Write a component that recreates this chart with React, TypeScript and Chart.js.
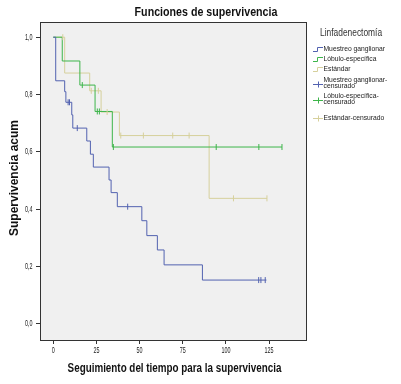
import React, { useEffect, useRef } from 'react';
import { Chart, registerables } from 'chart.js';

Chart.register(...registerables);

// Axis ticks
const xTicks = [0, 25, 50, 75, 100, 125];
const yTicks = [0, 0.2, 0.4, 0.6, 0.8, 1.0];

// Texts
const chartTitle = 'Funciones de supervivencia';
const xTitle = 'Seguimiento del tiempo para la supervivencia';
const yTitle = 'Supervivencia acum';
const groupNames = ['Muestreo ganglionar', 'Lóbulo-específica', 'Estándar'];
const censoredNames = [['Muestreo ganglionar-', 'censurado'], ['Lóbulo-específica-', 'censurado'], ['Estándar-censurado']];
const legendTitle = 'Linfadenectomía';

// Muestreo ganglionar (survival steps)
const muestreoTimes = [0, 1.4, 6.6, 7.3, 10.7, 11.3, 19.4, 21.5, 23.2, 32.3, 33.5, 37.1, 51.3, 54.2, 60.3, 64.2, 86.4, 123.5];
const muestreoSurv = [1, 0.848, 0.81, 0.773, 0.729, 0.683, 0.638, 0.592, 0.547, 0.502, 0.458, 0.409, 0.36, 0.308, 0.258, 0.206, 0.153, 0.153];
const muestreoCensTimes = [8.6, 9.4, 13.9, 43.1, 119.0, 120.3, 122.8];
const muestreoCensSurv = [0.773, 0.773, 0.683, 0.409, 0.153, 0.153, 0.153];

// Lóbulo-específica
const lobuloTimes = [0, 5.2, 15.4, 24.2, 34.2, 132.5];
const lobuloSurv = [1, 0.917, 0.833, 0.741, 0.617, 0.617];
const lobuloCensTimes = [16.8, 25.5, 26.7, 34.8, 94.4, 119.1, 132.5];
const lobuloCensSurv = [0.833, 0.741, 0.741, 0.617, 0.617, 0.617, 0.617];

// Estándar
const estandarTimes = [0, 6.6, 21.1, 27.7, 38.3, 90.3, 123.8];
const estandarSurv = [1, 0.875, 0.813, 0.739, 0.657, 0.438, 0.438];
const estandarCensTimes = [5.5, 22.0, 26.1, 31.2, 39.1, 52.2, 69.2, 78.7, 104.4, 123.8];
const estandarCensSurv = [1, 0.813, 0.813, 0.739, 0.657, 0.657, 0.657, 0.657, 0.438, 0.438];

const colors = ['#5262b0', '#3db54a', '#d6d09c'];

const toPts = (xs: number[], ys: number[]) => xs.map((x, i) => ({ x, y: ys[i] }));

const SANS = '"Liberation Sans", Arial, sans-serif';

// Draw horizontally condensed text (emulates a narrow face)
function drawText(ctx: CanvasRenderingContext2D, text: string, x: number, y: number, font: string, sx: number, align: 'left' | 'center' | 'right', color: string) {
  ctx.save();
  ctx.font = font;
  ctx.fillStyle = color;
  ctx.textBaseline = 'middle';
  ctx.textAlign = 'left';
  const w = ctx.measureText(text).width * sx;
  const x0 = align === 'center' ? x - w / 2 : align === 'right' ? x - w : x;
  ctx.translate(x0, y);
  ctx.scale(sx, 1);
  ctx.fillText(text, 0, 0);
  ctx.restore();
}

const framePlugin = {
  id: 'frame',
  beforeDraw(chart: any) {
    const { ctx, chartArea } = chart;
    const { left, top, right, bottom } = chartArea;
    ctx.save();
    ctx.fillStyle = '#f0f0f0';
    ctx.fillRect(left, top, right - left, bottom - top);
    ctx.restore();
  },
  afterDraw(chart: any) {
    const { ctx, chartArea, scales } = chart;
    const { left, top, right, bottom } = chartArea;
    ctx.save();
    ctx.strokeStyle = '#333';
    ctx.lineWidth = 1;
    ctx.strokeRect(left + 0.5, top + 0.5, right - left - 1, bottom - top);
    ctx.restore();

    // Tick labels
    const tickFont = `9px ${SANS}`;
    scales.x.ticks.forEach((t: any) => {
      drawText(ctx, String(t.value), scales.x.getPixelForValue(t.value), 351, tickFont, 0.6, 'center', '#222');
    });
    scales.y.ticks.forEach((t: any) => {
      drawText(ctx, Number(t.value).toFixed(1).replace('.', ','), 32.5, scales.y.getPixelForValue(t.value), tickFont, 0.6, 'right', '#222');
    });

    // Title and axis titles
    drawText(ctx, chartTitle, 206, 12, `bold 13px ${SANS}`, 0.82, 'center', '#111');
    drawText(ctx, xTitle, (left + right) / 2 + 1, 369, `bold 12px ${SANS}`, 0.82, 'center', '#111');
    ctx.save();
    ctx.translate(15, 178);
    ctx.rotate(-Math.PI / 2);
    drawText(ctx, yTitle, 0, 0, `bold 12px ${SANS}`, 1, 'center', '#111');
    ctx.restore();

    // Legend
    drawText(ctx, legendTitle, 320, 33.5, `10px ${SANS}`, 0.84, 'left', '#333');
    const entryFont = `7.5px ${SANS}`;
    const stepY = [49, 59, 69.3];
    groupNames.forEach((name, i) => {
      const y = stepY[i];
      ctx.save();
      ctx.strokeStyle = colors[i];
      ctx.lineWidth = 1;
      ctx.beginPath();
      ctx.moveTo(313, Math.round(y) + 2.5);
      ctx.lineTo(317.5, Math.round(y) + 2.5);
      ctx.lineTo(317.5, Math.round(y) - 1.5);
      ctx.lineTo(323, Math.round(y) - 1.5);
      ctx.stroke();
      ctx.restore();
      drawText(ctx, name, 323.5, y, entryFont, 0.9, 'left', '#222');
    });
    const censY = [[80, 85.8], [96, 101.8], [118.3]];
    const plusY = [83.5, 99.5, 118.3];
    censoredNames.forEach((lines, i) => {
      ctx.save();
      ctx.strokeStyle = colors[i];
      ctx.lineWidth = 1;
      const py = Math.round(plusY[i]) + 0.5;
      ctx.beginPath();
      ctx.moveTo(313, py);
      ctx.lineTo(323, py);
      ctx.moveTo(318.5, py - 3);
      ctx.lineTo(318.5, py + 3);
      ctx.stroke();
      ctx.restore();
      lines.forEach((t, j) => drawText(ctx, t, 323.5, censY[i][j], entryFont, 0.9, 'left', '#222'));
    });
  },
};

export default function App() {
  const ref = useRef<HTMLCanvasElement | null>(null);
  useEffect(() => {
    if (!ref.current) return;
    const lineDs = (label: string, xs: number[], ys: number[], color: string) => ({
      type: 'line' as const,
      label,
      data: toPts(xs, ys),
      borderColor: color,
      backgroundColor: color,
      borderWidth: 1,
      stepped: true,
      pointRadius: 0,
      fill: false,
      order: 1,
    });
    const censDs = (label: string, xs: number[], ys: number[], color: string) => ({
      type: 'line' as const,
      label,
      data: toPts(xs, ys),
      borderColor: color,
      backgroundColor: color,
      showLine: false,
      pointStyle: 'line',
      rotation: 90,
      pointRadius: 3,
      pointBorderWidth: 1,
      order: 0,
    });
    const gridOpts = { display: true, drawOnChartArea: false, drawTicks: true, tickLength: 4, color: '#333' };
    const chart = new Chart(ref.current, {
      type: 'line',
      data: {
        datasets: [
          lineDs(groupNames[0], muestreoTimes, muestreoSurv, colors[0]),
          lineDs(groupNames[1], lobuloTimes, lobuloSurv, colors[1]),
          lineDs(groupNames[2], estandarTimes, estandarSurv, colors[2]),
          censDs('Muestreo ganglionar-censurado', muestreoCensTimes, muestreoCensSurv, colors[0]),
          censDs('Lóbulo-específica-censurado', lobuloCensTimes, lobuloCensSurv, colors[1]),
          censDs('Estándar-censurado', estandarCensTimes, estandarCensSurv, colors[2]),
        ] as any,
      },
      options: {
        animation: false,
        responsive: false,
        devicePixelRatio: 1,
        layout: { padding: { left: 0, top: 22, right: 94, bottom: 0 } },
        plugins: { legend: { display: false }, title: { display: false }, tooltip: { enabled: false } },
        scales: {
          x: {
            type: 'linear',
            min: -7.7,
            max: 147,
            afterBuildTicks: (s: any) => { s.ticks = xTicks.map((v) => ({ value: v })); },
            afterFit: (s: any) => { s.height = 44; },
            grid: gridOpts,
            border: { display: false },
            ticks: { display: false },
          },
          y: {
            type: 'linear',
            min: -0.056,
            max: 1.053,
            afterBuildTicks: (s: any) => { s.ticks = yTicks.map((v) => ({ value: v })); },
            afterFit: (s: any) => { s.width = 40; },
            grid: gridOpts,
            border: { display: false },
            ticks: { display: false },
          },
        },
      },
      plugins: [framePlugin],
    } as any);
    return () => chart.destroy();
  }, []);
  return (
    <div style={{ position: 'absolute', left: 0, top: 0, width: 401, height: 384, background: '#fff' }}>
      <canvas ref={ref} width={401} height={384} style={{ display: 'block' }} />
    </div>
  );
}
